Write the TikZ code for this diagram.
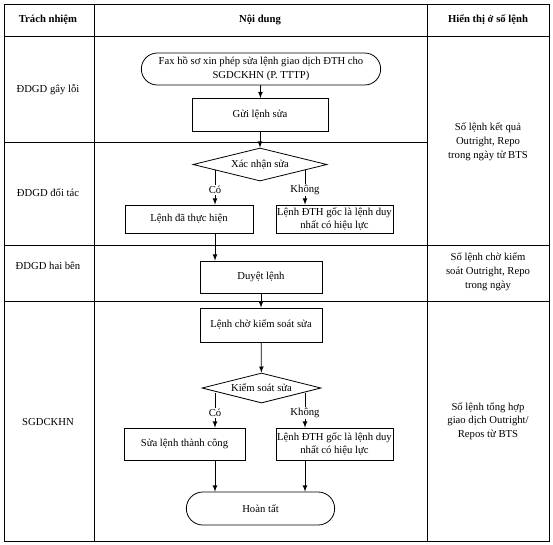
\documentclass[tikz,border=0pt]{standalone}
\usepackage{fontspec}
\setmainfont{Liberation Serif}
\usetikzlibrary{shapes.geometric,shapes.misc}

\begin{document}
\begin{tikzpicture}[x=0.75pt,y=-0.75pt,
    font=\fontsize{8}{10.3}\selectfont,
    line width=0.6pt,
    box/.style={draw,rectangle,inner sep=0.5pt,align=center},
    term/.style={draw,rounded rectangle,inner sep=1pt,align=center},
    decide/.style={draw,diamond,aspect=4,inner sep=0pt},
    arr/.style={->,>=latex},
    lbl/.style={fill=white,inner sep=1pt}]
                \useasboundingbox (0,0) rectangle (553,544);
                % bang
                \draw (4,4) rectangle (549,541);
                \draw (94,4) -- (94,541);
                \draw (427,4) -- (427,541);
                \draw (4,36) -- (549,36);
                \draw (4,142) -- (427,142);
                \draw (4,245) -- (549,245);
                \draw (4,301) -- (549,301);
                \node [font=\fontsize{8}{10.3}\selectfont\bfseries] (h1) at (48,20) {Trách nhiệm};
                \node [font=\fontsize{8}{10.3}\selectfont\bfseries] (h2) at (260,20) {Nội dung};
                \node [font=\fontsize{8}{10.3}\selectfont\bfseries] (h3) at (488,20) {Hiển thị ở số lệnh};
                \node (r1) at (48,90) {ĐDGD gây lỗi};
                \node (r2) at (48,193) {ĐDGD đối tác};
                \node (r3) at (48,266) {ĐDGD hai bên};
                \node (r4) at (48,422) {SGDCKHN};
                \node [align=center] (s1) at (488,142) {Số lệnh kết quả\\Outright, Repo\\trong ngày từ BTS};
                \node [align=center] (s2) at (488,272) {Số lệnh chờ kiểm\\soát Outright, Repo\\trong ngày};
                \node [align=center] (s3) at (488,421) {Số lệnh tổng hợp\\giao dịch Outright/\\Repos từ BTS};
                % luong xu ly
                \node [term,minimum width=181.5pt,minimum height=24pt] (fax) at (261,69) {Fax hồ sơ xin phép sửa lệnh giao dịch ĐTH cho\\SGDCKHN (P. TTTP)};
                \node [box,minimum width=102pt,minimum height=24.75pt] (gui) at (260,115) {Gửi lệnh sửa};
                \node [decide,minimum width=100.5pt,minimum height=24.75pt] (xn) at (260,164.5) {Xác nhận sửa};
                \node [box,minimum width=96pt,minimum height=21pt] (dath) at (189,219) {Lệnh đã thực hiện};
                \node [box,minimum width=87.75pt,minimum height=21pt] (goca) at (334.5,219) {Lệnh ĐTH gốc là lệnh duy\\nhất có hiệu lực};
                \node [box,minimum width=91.5pt,minimum height=24pt] (duyet) at (261,277) {Duyệt lệnh};
                \node [box,minimum width=91.5pt,minimum height=25.5pt] (cho) at (261,325) {Lệnh chờ kiểm soát sửa};
                \node [decide,minimum width=89.25pt,minimum height=22.5pt] (ks) at (261.5,388) {Kiểm soát sửa};
                \node [box,minimum width=90.75pt,minimum height=24pt] (tc) at (184.5,444) {Sửa lệnh thành công};
                \node [box,minimum width=87.75pt,minimum height=24pt] (gocb) at (334.5,444) {Lệnh ĐTH gốc là lệnh duy\\nhất có hiệu lực};
                \node [term,minimum width=113.25pt,minimum height=24.75pt] (ht) at (260.5,508.5) {Hoàn tất};
                \coordinate (coa) at (215,170);
                \coordinate (koa) at (305,170);
                \coordinate (cob) at (215,393);
                \coordinate (kob) at (305,393);
                \draw [arr] (fax) -- (gui);
                \draw [arr] (gui) -- (xn);
                \draw [arr] (coa) -- (coa |- dath.north) node [lbl,pos=.57] {Có};
                \draw [arr] (koa) -- (koa |- goca.north) node [lbl,pos=.57] {Không};
                \draw [arr] (coa |- dath.south) -- (coa |- duyet.north);
                \draw [arr] (duyet) -- (cho);
                \draw [arr] (cho) -- (ks);
                \draw [arr] (cob) -- (cob |- tc.north) node [lbl,pos=.57] {Có};
                \draw [arr] (kob) -- (kob |- gocb.north) node [lbl,pos=.57] {Không};
                \draw [arr] (cob |- tc.south) -- (cob |- ht.north);
                \draw [arr] (kob |- gocb.south) -- (kob |- ht.north);
            \end{tikzpicture}
\end{document}
